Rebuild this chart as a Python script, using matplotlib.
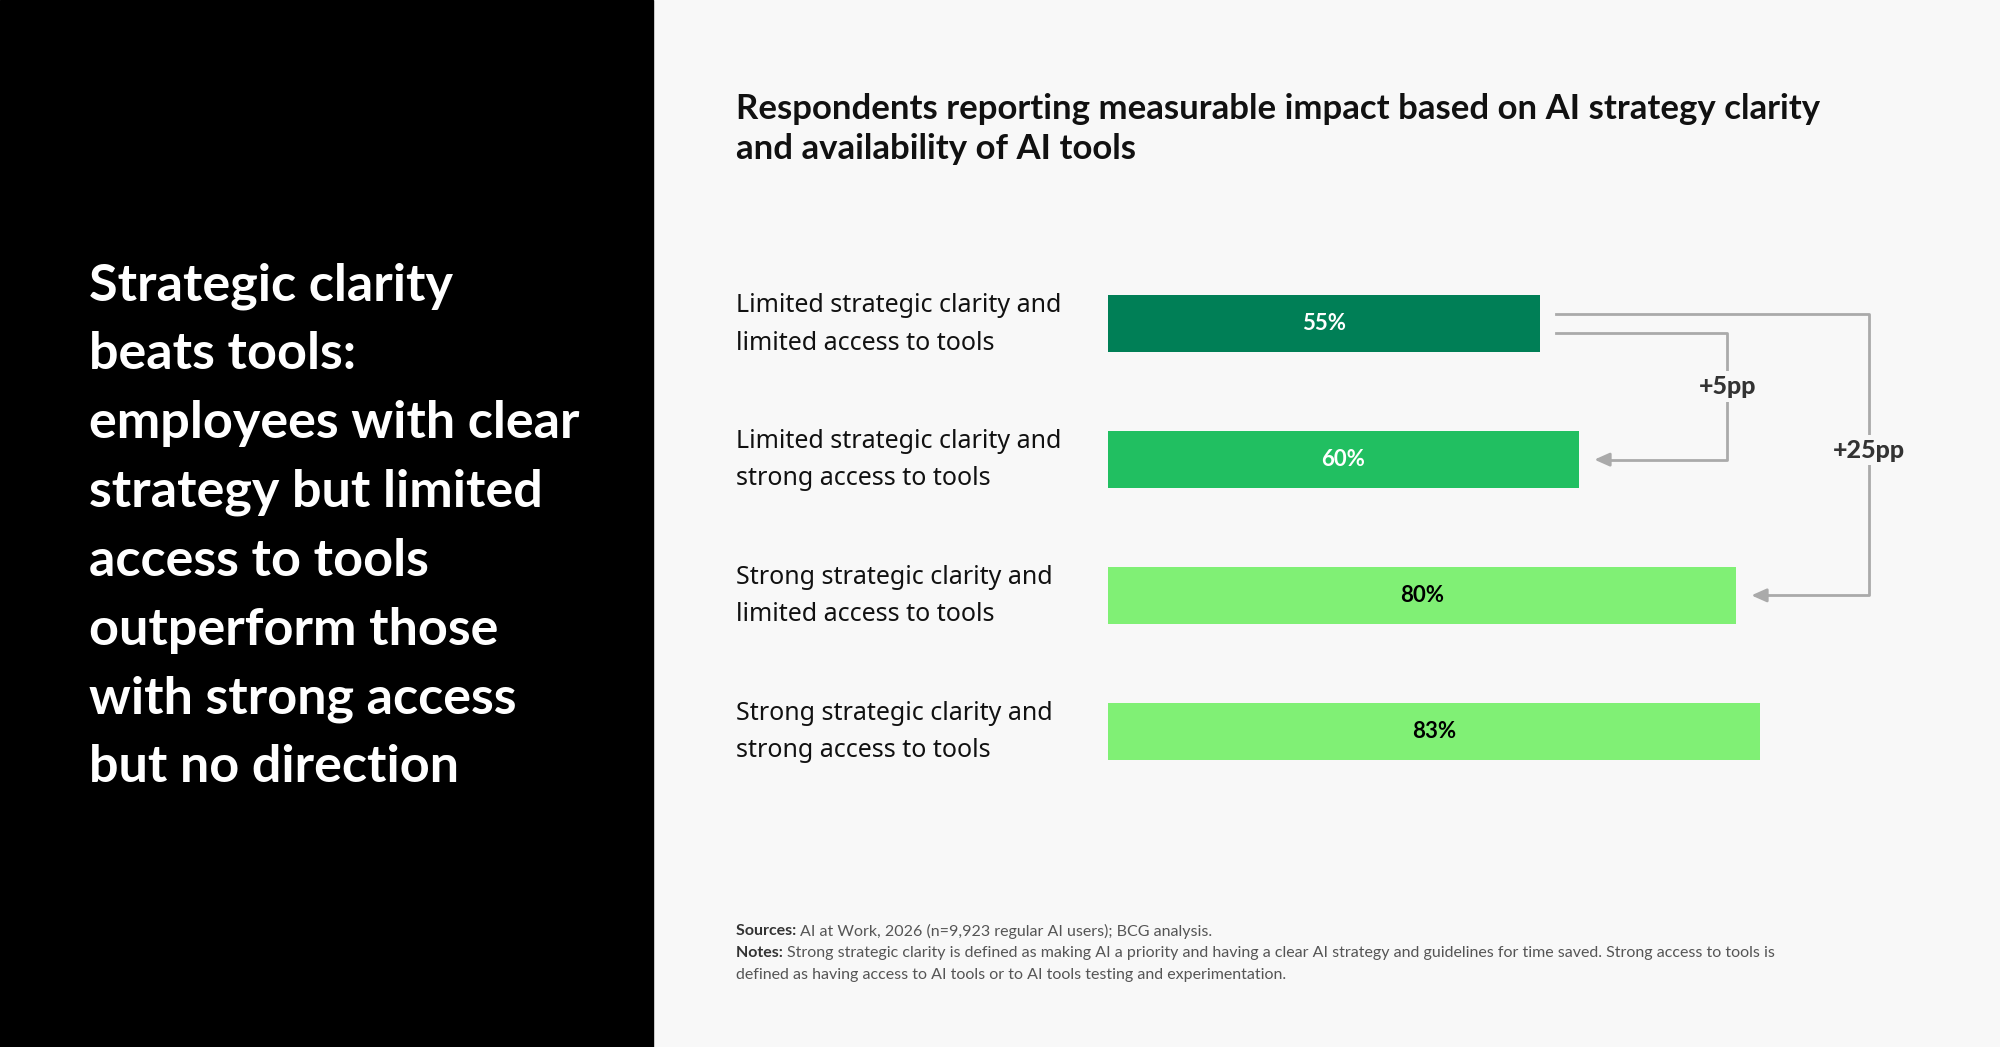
import matplotlib.pyplot as plt
from matplotlib.patches import Rectangle

categories = [["Limited strategic clarity and", "limited access to tools"],
              ["Limited strategic clarity and", "strong access to tools"],
              ["Strong strategic clarity and", "limited access to tools"],
              ["Strong strategic clarity and", "strong access to tools"]]
values = [55, 60, 80, 83]
colors = ["#007F56", "#21BF61", "#80F075", "#80F075"]
label_colors = ["white", "white", "black", "black"]

headline = ["Strategic clarity", "beats tools:", "employees with clear",
            "strategy but limited", "access to tools", "outperform those",
            "with strong access", "but no direction"]
title = ["Respondents reporting measurable impact based on AI strategy clarity",
         "and availability of AI tools"]
notes = [("Sources: ", "AI at Work, 2026 (n=9,923 regular AI users); BCG analysis."),
         ("Notes: ", "Strong strategic clarity is defined as making AI a priority and having a clear AI strategy "
                     "and guidelines for time saved. Strong access to tools is"),
         ("", "defined as having access to AI tools or to AI tools testing and experimentation.")]

W, H = 2000, 1047
fig = plt.figure(figsize=(20, 10.47), dpi=100)
fig.patch.set_facecolor("#F8F8F8")

# full-figure axes in pixel coords for the text blocks
bg = fig.add_axes([0, 0, 1, 1])
bg.set_xlim(0, W)
bg.set_ylim(H, 0)
bg.axis("off")
bg.add_patch(Rectangle((0, 0), 653, H, color="black"))
for i, line in enumerate(headline):
    bg.text(89, 286 + i * 68.8, line, color="white", fontsize=37.5, fontweight="bold",
            family="Lato", va="center")
for i, line in enumerate(title):
    bg.text(736, 109 + i * 40, line, fontsize=25, fontweight="bold", family="Lato",
            va="center", color="#111111")
for i, (bold, rest) in enumerate(notes):
    y = 931 + i * 22
    t = bg.text(736, y, bold, fontsize=11.5, fontweight="bold", family="Lato",
                color="#333333", va="center")
    bg.annotate(rest, xy=(1, 0.5), xycoords=t, va="center", fontsize=11.5,
                family="Lato", color="#555555")

# bar axes: x 0..100 % over 785 px starting at x=1108, rows centred 324..731 px
x0, xw = 1108, 785
top, bot = 256, 799
ax = fig.add_axes([x0 / W, 1 - bot / H, xw / W, (bot - top) / H])
ax.set_xlim(0, 100)
ax.set_ylim(3.5, -0.5)
ax.axis("off")
ax.patch.set_alpha(0)
ypos = range(len(values))
ax.barh(ypos, values, height=0.42, color=colors)
for y, v, lc in zip(ypos, values, label_colors):
    ax.text(v / 2, y, f"{v}%", ha="center", va="center", fontsize=16,
            fontweight="bold", family="Lato", color=lc)
    yc = 324 + y * 135.7
    for j, line in enumerate(categories[y]):
        bg.text(736, yc - 18 + j * 37, line, fontsize=18, family="Noto Sans",
                va="center", color="#111111")

gray = "#AAAAAA"
# outer bracket 55% -> 80%
ax.plot([57.1, 96.9, 96.9, 83.5], [-0.07, -0.07, 2, 2], color=gray, lw=2, clip_on=False)
ax.annotate("", xy=(81.6, 2), xytext=(84, 2),
            arrowprops=dict(arrowstyle="-|>,head_width=0.4,head_length=0.9", color=gray, lw=2))
# inner bracket 55% -> 60%
ax.plot([57.1, 78.9, 78.9, 63.5], [0.07, 0.07, 1, 1], color=gray, lw=2, clip_on=False)
ax.annotate("", xy=(61.6, 1), xytext=(64, 1),
            arrowprops=dict(arrowstyle="-|>,head_width=0.4,head_length=0.9", color=gray, lw=2))
box = dict(boxstyle="square,pad=0.15", fc="#F8F8F8", ec="none")
ax.text(78.9, 0.46, "+5pp", ha="center", va="center", fontsize=18, fontweight="black",
        family="Lato", color="#333333", bbox=box)
ax.text(96.9, 0.93, "+25pp", ha="center", va="center", fontsize=18, fontweight="black",
        family="Lato", color="#333333", bbox=box)

fig.savefig("out.png", dpi=100, facecolor=fig.get_facecolor())
